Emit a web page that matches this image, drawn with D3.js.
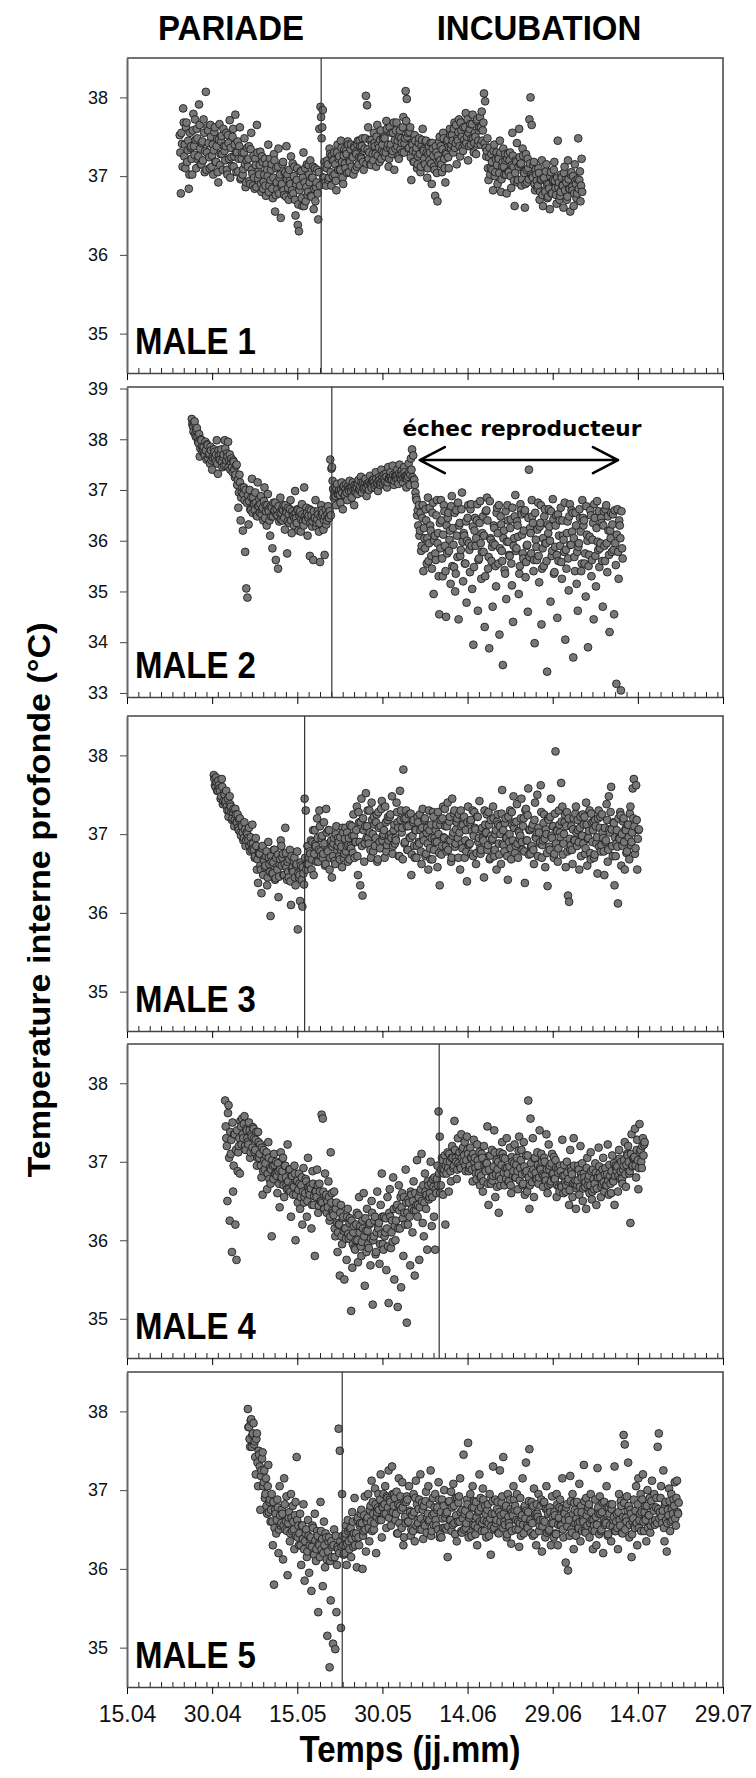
<!DOCTYPE html>
<html>
<head>
<meta charset="utf-8">
<script src="https://cdn.jsdelivr.net/npm/d3@7"></script>
<style>
  body { margin: 0; background: #fff; }
  svg { display: block; }
</style>
</head>
<body>
<svg id="chart"></svg>
<script>
// ---- data ----
const phaseLabels = ["PARIADE", "INCUBATION"];
const maleNames = ["MALE 1", "MALE 2", "MALE 3", "MALE 4", "MALE 5"];
const tickLabels = ["15.04", "30.04", "15.05", "30.05", "14.06", "29.06", "14.07", "29.07"];
const yTicksStd = [35, 36, 37, 38];
const yTicksMale2 = [33, 34, 35, 36, 37, 38, 39];
// first reading of each logger; series A every 4.8 h, series B halfway between
const seriesStart = ["24.04 07:00", "26.04 10:00", "30.04 07:00", "02.05 07:00", "06.05 07:00"];
const sampleHours = 4.8;
// end of pariade (vertical line)
const pariadeEnd = ["19.05 05:00", "21.05 02:00", "16.05 07:00", "09.06 00:00", "22.05 22:00"];
const failureFrom = "05.06 14:00", failureTo = "10.07 12:00", failureTemp = 37.59;
const failureLabel = "échec reproducteur";

const male1Temp = [
37.52,36.78,37.41,37.86,37.25, 37.10,37.68,37.33,36.84,37.55, 37.38,37.02,37.79,37.27,37.46,
37.60,37.21,37.91,37.35,37.15, 37.44,37.72,37.05,38.07,37.30, 37.58,37.24,37.65,37.12,37.40,
37.33,37.62,37.18,37.47,36.92, 37.66,37.28,37.51,37.08,37.38, 37.20,37.55,37.02,37.42,37.71,
37.36,37.13,37.60,37.25,37.78, 37.05,37.44,37.22,37.62,36.98, 37.30,37.09,37.48,36.86,37.20,
37.12,37.38,36.90,37.55,37.03, 37.26,36.84,37.14,37.65,36.97, 37.02,37.31,36.80,37.18,36.93,
37.22,36.75,37.08,37.40,36.88, 36.95,37.15,36.72,37.28,36.55, 37.10,36.83,37.35,36.98,36.47,
36.90,37.18,36.76,37.05,37.38, 37.02,36.70,36.94,37.25,36.82, 36.78,37.12,36.50,36.95,36.38,
36.30,36.88,37.06,36.62,37.30, 36.92,36.68,37.15,36.80,37.02, 37.20,36.74,36.98,36.58,37.10,
36.86,37.08,36.45,37.60,37.88, 37.48,37.84,36.98,37.12,36.88, 37.20,36.95,37.35,37.05,37.26,
37.00,37.30,37.15,36.82,37.40, 37.22,37.08,37.45,37.18,36.90, 37.34,37.10,37.28,37.44,37.05,
37.18,37.40,37.25,37.02,37.36, 37.30,37.12,37.45,37.24,37.38, 37.22,37.48,37.08,37.35,38.02,
37.90,37.62,37.30,37.15,37.46, 37.28,37.55,37.38,37.12,37.65, 37.40,37.18,37.58,37.32,37.48,
37.50,37.25,37.70,37.36,37.12, 37.62,37.40,37.28,37.55,37.08, 37.35,37.68,37.45,37.22,37.58,
37.48,37.30,37.75,37.42,38.08, 37.98,37.55,37.36,37.62,36.95, 37.40,37.18,37.52,37.30,37.10,
37.25,37.48,37.05,37.38,37.60, 37.32,37.15,37.45,36.98,37.28, 37.20,37.42,36.90,37.35,37.12,
36.75,37.30,36.68,37.18,37.50, 37.38,37.05,37.55,37.22,36.92, 37.28,37.46,37.10,37.60,37.35,
37.52,37.30,37.68,37.42,37.15, 37.45,37.72,37.25,37.58,37.36, 37.62,37.40,37.80,37.50,37.20,
37.38,37.66,37.48,37.78,37.30, 37.55,37.28,37.72,37.45,37.62, 37.40,37.82,37.58,38.05,37.95,
37.25,37.48,36.95,37.36,37.10, 37.18,36.82,37.40,37.05,37.30, 36.90,37.22,37.45,36.80,37.12,
37.35,37.02,37.20,36.78,37.28, 37.05,37.30,36.85,37.55,37.12, 36.62,37.20,37.42,36.95,37.60,
37.15,36.88,37.35,37.05,36.60, 37.28,36.92,37.10,37.72,38.00, 37.65,36.98,37.18,36.82,37.02,
36.85,37.10,36.70,36.95,37.20, 36.62,36.98,36.80,37.15,36.72, 36.90,36.58,37.05,36.78,36.95,
37.18,36.85,36.65,37.45,36.92, 36.75,37.02,36.88,36.60,37.12, 36.95,36.70,37.20,36.84,36.55,
37.05,36.82,36.62,37.15,36.90, 36.78,37.48,36.95,36.68,37.22
];
const male1TempB = [
37.30,37.55,37.12,37.68,37.40, 37.62,37.18,37.45,37.02,37.36, 37.22,37.58,37.38,37.72,37.10,
37.48,37.25,37.65,37.15,37.42, 37.20,37.55,37.32,37.08,37.62, 37.42,37.10,37.50,37.26,37.02,
37.56,37.18,37.38,37.05,37.46, 37.14,37.44,37.28,37.60,37.32, 37.38,37.08,37.52,37.22,36.98,
37.24,37.50,37.12,37.40,37.30, 37.30,37.06,37.38,36.96,37.22, 37.02,37.30,37.15,36.92,37.36,
37.22,36.94,37.34,37.08,36.88, 36.98,37.22,36.86,37.30,37.06, 37.14,36.90,37.25,36.84,37.02,
36.88,37.15,37.00,36.80,37.22, 37.08,36.84,36.98,37.20,36.76, 36.92,37.12,36.78,37.02,36.88,
37.15,36.82,37.04,36.74,36.96, 36.85,37.08,36.90,36.76,37.16, 37.00,36.70,36.90,37.10,36.64,
36.82,37.06,36.72,36.98,36.62, 37.10,36.86,36.76,37.14,36.92, 36.75,36.98,37.12,36.84,36.68,
36.92,36.78,37.05,36.88,37.75, 37.62,36.98,37.18,36.92,37.10, 37.15,36.98,37.28,36.88,37.20,
37.20,37.02,36.94,37.30,37.08, 37.25,37.08,37.36,36.98,37.26, 37.16,37.32,37.04,37.40,37.20,
37.34,37.12,37.24,37.38,37.08, 37.28,37.40,37.15,37.45,37.24, 37.38,37.18,37.32,37.48,37.16,
37.34,37.22,37.46,37.14,37.40, 37.20,37.42,37.28,37.50,37.26, 37.36,37.46,37.22,37.40,37.30,
37.48,37.30,37.60,37.40,37.22, 37.36,37.55,37.32,37.68,37.46, 37.58,37.38,37.25,37.50,37.34,
37.42,37.62,37.30,37.48,37.70, 37.50,37.35,37.56,37.24,37.42, 37.32,37.18,37.45,37.36,37.15,
37.42,37.28,37.12,37.46,37.34, 37.22,37.44,37.30,37.10,37.38, 37.30,37.16,37.42,37.26,37.08,
37.38,37.04,37.26,37.44,37.20, 37.15,37.34,37.48,37.10,37.30, 37.44,37.24,37.36,37.52,37.40,
37.45,37.60,37.36,37.65,37.48, 37.56,37.38,37.68,37.50,37.32, 37.46,37.62,37.42,37.72,37.55,
37.60,37.40,37.66,37.48,37.42, 37.50,37.70,37.40,37.58,37.75, 37.62,37.45,37.68,37.42,37.36,
37.32,37.10,37.24,37.02,37.28, 37.08,37.32,37.00,37.22,37.14, 37.24,37.04,37.30,36.96,37.18,
37.12,37.28,37.02,37.22,37.06, 37.20,37.00,37.14,37.26,36.94, 37.04,37.18,36.92,37.12,37.24,
37.16,36.96,37.26,37.04,36.90, 37.08,37.22,36.96,37.16,37.02, 37.00,37.14,36.90,37.08,36.94,
36.88,37.04,36.80,36.96,36.76, 36.98,36.82,37.06,36.90,36.74, 36.84,37.00,36.78,36.94,37.08,
36.94,36.76,36.98,36.86,36.70, 36.80,36.98,36.88,37.04,36.82, 36.92,36.74,36.96,36.84,37.02,
36.86,37.00,36.78,36.94,36.72, 36.96,36.84,37.06,36.88,36.80
];

const male2Temp = [
38.40,38.25,38.32,38.10,38.18, 38.05,37.92,37.66,38.00,37.85, 37.80,37.72,37.95,37.60,37.88,
37.70,37.52,37.78,37.40,37.62, 37.75,37.55,37.98,37.32,37.68, 37.60,37.80,37.45,37.70,37.98,
37.50,37.72,37.95,37.58,37.40, 37.62,37.35,37.55,37.25,37.48, 37.10,36.65,37.30,36.40,36.95,
36.20,37.05,35.78,35.06,34.88, 36.32,37.00,36.60,37.22,36.85, 36.72,36.95,36.50,37.15,36.68,
36.55,36.88,36.62,36.40,37.05, 36.70,36.30,36.92,36.58,36.10, 36.48,35.85,36.75,36.60,35.62,
36.62,35.45,36.38,36.85,36.55, 36.40,36.70,36.22,36.58,35.75, 36.65,36.35,36.80,36.15,36.50,
36.30,36.98,36.45,36.62,36.20, 36.55,36.18,36.72,36.38,37.05, 36.42,36.65,36.10,36.50,35.70,
36.60,36.28,35.62,36.45,36.80, 36.35,36.58,36.18,35.58,36.70, 36.50,36.22,35.72,36.62,36.40,
36.68,36.45,37.60,37.42,37.18, 36.85,37.05,36.70,37.12,36.92, 37.00,36.75,37.15,36.62,37.08,
36.90,37.12,36.80,37.02,37.18, 37.05,36.85,37.15,36.70,37.00, 37.10,36.92,37.20,37.02,37.26,
36.95,37.15,37.05,37.22,36.88, 37.12,37.00,37.28,37.08,37.18, 37.20,37.05,37.35,37.12,36.98,
37.25,37.10,37.40,37.18,37.30, 37.15,37.32,37.05,37.45,37.22, 37.35,37.20,37.48,37.10,37.28,
37.22,37.40,37.12,37.50,37.30, 37.38,37.15,37.45,37.25,37.05, 37.30,37.52,37.10,37.62,37.80,
37.68,37.20,36.95,36.80,36.60, 36.70,36.20,35.80,36.45,35.40, 36.05,36.62,35.55,36.85,35.95,
36.30,35.70,36.55,34.95,36.10, 35.62,36.80,36.15,34.55,35.85, 36.40,35.30,36.70,35.90,34.50,
35.75,36.55,36.02,35.15,36.88, 36.25,35.48,35.00,36.60,35.68, 34.45,36.35,35.82,36.95,35.20,
36.10,35.55,34.78,36.45,35.95, 35.38,36.72,35.05,33.95,36.20, 35.90,36.40,34.62,35.65,36.78,
35.25,36.15,35.78,34.30,36.58, 36.85,35.45,33.88,36.05,35.60, 34.70,36.30,35.92,35.10,36.65,
35.55,34.15,36.48,35.80,33.55, 36.20,35.35,34.85,36.70,35.98, 35.70,36.42,35.12,34.40,36.05,
36.90,35.85,36.30,34.95,35.50, 36.60,36.12,35.65,36.55,35.28, 35.90,34.60,37.40,36.25,35.75,
36.48,35.40,33.98,36.02,35.62, 36.75,35.18,36.35,34.35,35.85, 35.50,36.62,35.95,33.42,36.15,
36.28,34.80,35.70,36.82,35.35, 35.88,36.50,34.48,35.60,36.40, 36.65,35.25,36.10,35.78,34.05,
35.45,36.38,35.02,36.72,35.92, 36.18,33.70,35.68,36.55,35.15, 34.62,35.95,36.45,35.40,36.80,
36.30,35.55,34.90,36.12,33.90, 35.72,36.60,35.30,36.02,34.45, 36.45,35.10,36.78,35.82,35.48,
35.95,36.35,34.70,36.58,35.60, 36.70,35.38,36.20,34.20,36.05, 35.78,36.52,34.55,35.95,33.18,
36.62,35.25,36.30,33.05,35.85
];
const male2TempB = [
38.30,38.15,38.35,38.05,38.22, 37.95,38.10,37.82,37.98,37.75, 37.85,37.68,37.78,37.90,37.62,
37.72,37.85,37.58,37.66,37.80, 37.62,37.70,37.52,37.78,37.60, 37.72,37.55,37.65,37.48,37.82,
37.58,37.66,37.45,37.70,37.55, 37.45,37.58,37.40,37.30,37.50, 37.20,36.95,37.15,36.85,37.05,
36.92,36.80,37.00,36.75,36.90, 36.78,36.62,36.85,36.55,36.72, 36.60,36.75,36.48,36.68,36.82,
36.72,36.52,36.65,36.78,36.45, 36.58,36.70,36.62,36.40,36.68, 36.65,36.48,36.58,36.75,36.52,
36.50,36.68,36.55,36.42,36.62, 36.60,36.45,36.70,36.55,36.38, 36.52,36.62,36.40,36.58,36.48,
36.45,36.55,36.35,36.60,36.50, 36.58,36.42,36.52,36.30,36.48, 36.40,36.55,36.45,36.62,36.35,
36.50,36.38,36.58,36.45,36.28, 36.42,36.52,36.35,36.48,36.60, 36.55,36.40,36.48,36.32,36.52,
36.45,36.58,36.50,37.45,37.02, 36.95,36.88,37.02,36.92,36.98, 36.90,37.00,36.95,37.05,36.88,
37.02,36.95,37.08,36.98,37.05, 36.98,37.06,37.00,37.10,36.95, 37.05,37.12,37.00,37.08,37.15,
37.10,37.02,37.14,37.06,37.12, 37.08,37.16,37.12,37.04,37.20, 37.15,37.10,37.22,37.14,37.18,
37.20,37.14,37.24,37.12,37.22, 37.18,37.26,37.15,37.22,37.28, 37.25,37.20,37.30,37.18,37.26,
37.28,37.22,37.32,37.25,37.20, 37.30,37.24,37.35,37.28,37.22, 37.26,37.34,37.30,37.40,37.25,
37.20,37.10,36.85,36.50,36.30, 36.10,36.55,35.90,36.70,36.25, 35.85,36.40,36.05,35.60,36.65,
36.20,35.45,36.75,36.00,35.75, 36.50,35.95,35.30,36.35,36.80, 35.65,36.12,36.58,35.40,36.30,
36.45,35.80,36.20,36.68,35.50, 35.92,36.55,35.35,36.10,36.75, 36.30,35.70,36.62,35.98,36.15,
35.55,36.38,36.00,36.70,35.82, 36.62,35.90,36.28,35.48,36.45, 36.05,36.72,35.62,36.35,35.95,
35.78,36.48,36.10,35.30,36.60, 36.40,35.68,36.78,36.02,35.88, 35.95,36.25,35.50,36.55,36.15,
36.70,35.85,36.32,35.60,36.05, 35.42,36.58,35.98,36.40,35.72, 36.25,35.55,36.65,35.90,36.48,
35.80,36.38,36.08,35.35,36.72, 36.52,35.75,36.20,36.60,35.58, 35.92,36.45,35.68,36.15,36.80,
36.35,35.62,36.55,35.88,36.22, 35.70,36.28,36.70,35.45,36.05, 36.48,35.95,35.60,36.32,36.62,
36.00,36.58,35.80,36.42,35.38, 36.30,35.72,36.52,36.10,35.90, 35.58,36.40,36.02,36.75,35.82,
36.15,35.65,36.48,35.92,36.60, 36.55,36.05,35.40,36.30,35.78, 35.88,36.62,36.18,35.55,36.45,
36.40,35.75,36.68,36.00,35.50, 36.08,36.50,35.62,36.35,36.72, 35.70,36.25,35.98,36.58,35.85,
36.45,35.60,36.30,35.90,36.62, 35.95,36.48,35.72,36.20,36.55, 36.32,35.82,36.60,35.52,36.12,
35.78,36.40,36.05,36.58,35.65
];

const male3Temp = [
37.75,37.62,37.72,37.55,37.68, 37.58,37.45,37.70,37.38,37.52, 37.40,37.55,37.30,37.22,37.48,
37.35,37.18,37.28,37.10,37.32, 37.15,37.25,37.05,37.20,36.98, 37.10,36.92,37.15,36.85,37.02,
36.95,37.08,36.78,36.88,37.12, 36.82,36.70,36.95,36.55,36.38, 36.75,36.60,36.25,36.85,36.68,
36.58,36.72,36.35,36.90,36.62, 35.96,36.65,36.50,36.80,36.42, 36.70,36.55,36.20,36.62,36.92,
36.60,36.75,36.48,37.08,36.58, 36.65,36.45,36.80,36.10,36.55, 36.52,36.70,36.35,36.62,35.79,
36.45,36.15,36.60,36.08,36.50, 37.45,37.30,36.62,36.85,36.70, 36.75,36.55,36.90,36.48,37.05,
36.85,37.20,36.65,37.30,36.78, 36.95,36.70,37.15,36.60,37.32, 36.80,37.05,36.55,36.90,36.45,
36.72,36.95,36.62,37.10,36.85, 36.90,36.68,36.80,36.58,37.02, 36.75,37.08,36.85,36.65,36.95,
37.12,36.82,36.98,37.25,36.70, 36.90,37.35,36.48,37.15,36.35, 37.45,36.22,37.05,36.88,37.52,
37.10,36.95,37.30,36.80,37.40, 37.00,37.22,36.85,37.15,36.65, 37.28,36.90,37.10,37.42,36.98,
37.05,37.35,36.78,37.18,36.92, 37.22,37.00,37.48,36.85,37.12, 36.95,37.40,37.15,36.72,37.55,
37.30,37.08,37.82,36.88,37.20, 37.10,36.80,37.25,36.95,36.48, 36.98,37.18,36.70,37.05,36.85,
37.15,36.88,37.05,36.62,37.32, 36.92,37.20,36.75,37.08,36.55, 37.05,36.68,36.95,37.28,36.80,
36.90,37.12,36.58,37.00,36.35, 37.18,36.85,37.35,36.95,37.10, 36.78,37.40,36.92,37.22,36.65,
37.45,37.02,37.30,36.88,37.15, 36.95,37.25,36.55,37.10,36.82, 37.20,36.70,37.05,36.40,37.35,
36.88,37.15,36.75,37.30,36.98, 37.08,36.62,37.22,36.90,37.42, 36.75,37.05,36.95,36.45,37.12,
37.02,36.80,37.28,36.68,37.18, 36.92,37.35,36.72,37.00,36.55, 37.25,36.88,37.10,36.62,37.56,
37.05,36.78,37.20,36.95,36.42, 36.90,37.30,36.68,37.12,37.48, 37.15,36.85,37.38,36.70,37.02,
36.98,37.45,36.80,37.20,36.38, 37.32,36.92,37.58,37.05,36.75, 36.85,37.12,36.62,37.40,36.95,
37.50,37.08,36.88,37.62,36.70, 36.92,37.25,36.58,37.00,36.34, 37.18,36.80,37.45,36.95,37.10,
36.75,38.05,37.05,36.65,37.30, 37.02,37.65,37.35,36.88,37.15, 36.58,37.28,36.22,36.14,36.80,
37.10,36.62,37.20,36.92,37.35, 36.85,37.05,36.55,37.22,36.98, 37.25,37.12,36.75,37.40,36.60,
36.95,37.30,36.68,37.15,37.05, 36.70,37.18,36.88,36.50,37.30, 37.08,36.78,37.25,36.95,36.48,
36.90,37.38,36.65,37.48,37.02, 37.60,36.85,37.15,36.35,36.72, 37.05,36.12,36.95,37.28,36.60,
36.85,37.20,36.55,37.05,36.78, 37.12,36.68,37.35,36.90,37.58, 37.70,36.75,37.62,36.55,37.05
];
const male3TempB = [
37.70,37.60,37.66,37.55,37.62, 37.55,37.48,37.60,37.42,37.50, 37.42,37.35,37.45,37.30,37.38,
37.28,37.20,37.32,37.18,37.25, 37.15,37.08,37.18,37.02,37.12, 37.02,36.95,37.06,36.92,37.00,
36.92,36.85,36.96,36.80,36.88, 36.80,36.72,36.85,36.68,36.76, 36.75,36.55,36.82,36.48,36.66,
36.60,36.78,36.45,36.70,36.52, 36.72,36.50,36.64,36.80,36.44, 36.58,36.74,36.46,36.68,36.85,
36.70,36.48,36.62,36.76,36.42, 36.52,36.68,36.40,36.72,36.58, 36.66,36.45,36.60,36.78,36.50,
36.48,36.64,36.42,36.58,36.36, 36.70,36.55,36.85,36.62,36.78, 36.92,36.68,37.05,36.75,36.88,
36.65,36.95,36.80,37.10,36.72, 36.98,36.75,36.88,36.62,37.02, 36.78,37.05,36.70,36.92,36.84,
36.88,36.66,37.00,36.80,36.95, 36.72,36.96,36.84,37.08,36.70, 36.94,36.78,37.02,36.86,36.68,
36.85,37.10,36.76,36.98,36.90, 37.05,36.72,37.28,36.90,37.15, 36.85,37.20,36.65,37.10,36.95,
37.30,36.88,37.02,36.70,37.18, 36.78,37.12,36.95,37.25,36.68, 37.08,36.82,37.32,36.92,37.00,
36.70,37.15,36.86,37.22,36.98, 37.25,36.95,36.75,37.05,36.88, 36.92,37.28,37.08,36.72,37.18,
37.02,36.68,37.20,36.90,37.30, 36.80,37.10,36.96,37.26,36.74, 37.15,36.85,37.05,36.70,37.22,
36.90,37.25,36.78,37.08,36.98, 37.18,36.72,37.02,36.88,37.30, 36.82,37.12,36.68,37.22,36.95,
37.05,36.90,37.28,36.76,37.12, 36.74,37.20,36.96,37.32,36.85, 37.10,36.80,37.16,36.92,36.70,
36.98,37.26,36.84,37.06,37.20, 36.70,37.02,37.30,36.88,37.12, 37.22,36.92,36.78,37.15,36.86,
36.88,37.18,37.04,36.72,37.28, 37.06,36.76,37.22,36.95,36.82, 36.80,37.08,36.92,37.30,37.02,
37.25,36.86,37.12,36.70,36.98, 36.94,37.20,36.80,37.05,37.16, 37.12,36.74,37.00,37.26,36.88,
36.86,37.14,36.96,36.72,37.22, 37.00,36.82,37.28,36.92,37.08, 36.76,37.16,36.88,37.04,36.94,
37.20,36.90,37.10,36.78,37.30, 36.92,37.24,36.74,37.06,36.84, 37.08,36.80,37.18,36.96,37.02,
36.72,37.02,36.90,37.28,36.86, 37.14,36.94,37.06,36.76,37.20, 36.84,37.22,36.98,37.10,36.70,
37.26,36.88,37.04,36.82,37.12, 36.96,37.16,36.74,37.00,37.24, 37.10,36.78,37.20,36.94,36.86,
36.80,37.06,36.92,37.26,37.02, 37.18,36.90,37.08,36.72,36.98, 36.88,37.22,36.82,37.12,36.94,
37.04,36.76,37.26,36.90,37.16, 36.74,37.10,36.96,37.20,36.84, 37.22,36.86,37.02,36.78,37.08,
36.92,37.18,36.80,37.06,37.28, 37.06,36.72,37.14,36.96,36.88, 36.84,37.20,36.94,37.24,37.00,
37.16,36.90,37.06,36.76,37.12, 36.96,37.26,36.86,37.02,37.20, 37.10,36.82,37.18,36.94,37.06
];

const male4Temp = [
37.78,37.30,36.50,37.72,36.25, 37.10,35.85,36.62,37.35,36.20, 35.75,36.88,37.20,36.85,37.45,
37.55,37.30,37.58,37.15,37.40, 37.25,37.50,37.05,37.35,37.18, 37.42,37.12,37.28,36.95,37.38,
37.05,37.22,36.80,36.58,37.15, 36.90,37.08,36.65,37.25,36.78, 36.72,36.05,36.95,37.10,36.85,
37.00,36.60,36.88,36.42,37.12, 36.80,37.05,36.55,36.95,36.70, 37.22,36.65,36.90,36.30,36.82,
36.58,36.95,36.00,36.75,36.48, 36.85,36.40,36.70,36.20,36.92, 36.55,36.78,36.30,37.05,36.62,
36.70,36.15,36.88,36.45,35.80, 36.62,36.90,36.35,36.72,36.50, 37.60,37.55,36.40,36.85,36.58,
36.50,36.75,36.25,37.12,36.60, 36.35,36.62,36.05,36.48,35.85, 36.20,35.55,36.45,35.95,36.30,
35.50,36.15,35.75,36.40,36.02, 36.28,35.10,35.65,36.10,35.90, 36.00,36.35,35.72,36.55,36.18,
35.80,36.25,36.60,35.42,36.12, 36.40,35.95,36.20,35.68,36.50, 35.18,36.05,36.30,35.85,36.62,
36.15,35.70,36.45,36.85,35.95, 36.30,36.10,35.62,36.55,35.20, 36.65,35.90,36.25,36.80,35.50,
36.00,36.42,35.15,36.70,36.15, 35.40,36.60,35.80,36.35,36.90, 34.95,36.20,36.48,35.68,36.58,
36.10,36.75,35.55,36.38,37.02, 36.45,35.75,36.62,37.10,36.22, 36.05,36.85,36.40,35.88,36.70,
36.55,37.00,36.18,36.78,36.30, 35.88,36.60,36.95,37.64,37.32, 36.70,37.05,36.58,36.90,36.20,
36.85,37.12,36.62,37.00,36.75, 37.20,36.92,37.52,37.05,36.78, 37.30,37.08,36.95,37.35,37.15,
37.00,37.25,36.88,37.32,37.10, 36.92,37.18,37.05,36.75,37.28, 37.05,36.85,37.22,36.95,37.12,
36.80,37.10,36.62,37.20,36.90, 36.98,37.45,36.45,37.08,36.72, 37.15,36.82,37.40,36.55,37.02,
36.90,36.35,37.12,36.78,37.25, 37.05,36.70,36.92,37.30,36.85, 36.75,37.18,36.60,37.00,36.88,
37.22,36.80,37.05,36.65,37.32, 36.92,37.15,36.70,37.25,36.58, 37.08,36.62,37.78,36.40,37.55,
36.85,37.30,36.55,37.05,36.78, 37.12,36.72,37.40,36.90,37.00, 36.68,37.05,36.82,37.35,36.60,
37.22,36.95,36.75,37.10,36.85, 36.78,37.02,36.55,36.90,36.68, 36.95,36.70,37.28,36.60,36.82,
36.62,37.00,36.75,36.45,37.15, 36.88,36.55,37.30,36.72,36.40, 36.70,36.95,36.58,37.20,36.80,
36.50,36.85,36.68,36.40,37.05, 36.78,36.60,37.12,36.52,36.90, 36.65,36.98,36.45,36.80,37.18,
36.85,36.55,36.72,37.05,36.62, 36.92,36.70,37.22,36.58,36.82, 36.60,37.08,36.75,36.45,36.95,
36.88,36.62,37.15,36.78,37.00, 36.72,36.95,37.25,36.68,37.10, 37.20,36.85,36.22,37.35,36.95,
37.05,37.42,36.80,37.28,36.65, 37.48,37.15,36.92,37.30,37.22
];
const male4TempB = [
37.45,37.20,37.62,37.05,37.38, 37.28,37.50,36.95,37.35,37.15, 37.40,37.12,37.30,37.52,37.22,
37.35,37.48,37.20,37.42,37.30, 37.22,37.40,37.12,37.32,37.44, 37.30,37.15,37.38,37.05,37.25,
37.10,36.95,37.18,36.88,37.02, 36.98,37.12,36.85,37.05,36.92, 36.90,37.02,36.78,36.96,36.84,
36.82,36.98,36.72,36.90,36.78, 36.88,36.70,36.95,36.80,36.65, 36.75,36.90,36.62,36.82,36.70,
36.68,36.85,36.58,36.76,36.64, 36.72,36.55,36.80,36.62,36.48, 36.60,36.75,36.50,36.68,36.58,
36.66,36.45,36.72,36.56,36.62, 36.55,36.70,36.44,36.62,36.50, 36.48,36.62,36.40,36.55,36.35,
36.42,36.55,36.30,36.48,36.38, 36.32,36.15,36.40,36.22,36.10, 36.20,36.35,36.05,36.28,36.12,
36.15,36.02,36.30,36.08,36.22, 36.05,36.25,35.95,36.18,35.88, 36.20,36.00,36.32,36.10,35.92,
35.98,36.15,36.05,36.28,35.85, 36.12,35.90,36.22,36.02,36.35, 36.00,36.25,35.82,36.10,36.18,
36.22,35.95,36.08,36.30,35.88, 36.05,36.28,36.15,35.92,36.35, 36.30,36.10,35.98,36.40,36.18,
36.25,36.45,36.15,36.38,36.55, 36.42,36.28,36.55,36.20,36.48, 36.35,36.52,36.30,36.62,36.40,
36.50,36.38,36.60,36.45,36.30, 36.55,36.42,36.65,36.50,36.70, 36.48,36.62,36.58,36.75,36.52,
36.60,36.72,36.55,36.68,36.80, 36.65,36.78,36.70,36.85,36.60, 36.90,37.02,36.85,37.08,36.95,
37.00,36.92,37.10,36.88,37.05, 37.05,36.95,37.15,37.00,36.90, 36.98,37.12,36.92,37.05,37.18,
37.08,36.95,37.02,37.15,36.88, 36.95,37.05,36.90,37.10,37.00, 36.92,36.78,37.02,36.85,36.70,
36.82,37.05,36.75,36.95,36.88, 36.98,36.72,36.90,37.08,36.80, 36.76,36.94,37.12,36.84,36.68,
37.00,36.82,36.70,36.96,37.10, 36.86,37.04,36.78,36.92,36.74, 36.94,36.70,37.06,36.82,36.98,
36.80,36.96,36.88,37.14,36.76, 37.02,36.84,36.72,36.94,36.86, 36.88,37.08,36.80,36.70,36.98,
36.74,36.90,37.04,36.86,36.78, 36.96,36.80,36.92,37.10,36.84, 36.82,37.00,36.76,36.90,36.70,
36.90,36.72,36.98,36.84,37.06, 36.78,36.92,36.70,36.86,36.62, 36.88,36.68,36.82,36.96,36.74,
36.70,36.86,36.78,36.64,36.92, 36.84,36.72,36.95,36.76,36.66, 36.76,36.90,36.68,36.84,36.98,
36.66,36.80,36.74,36.92,36.70, 36.82,36.70,36.88,36.62,36.78, 36.72,36.86,36.66,36.80,36.94,
36.80,36.68,36.90,36.74,36.84, 36.70,36.84,36.76,36.96,36.72, 36.88,36.76,36.98,36.82,36.92,
36.94,36.82,37.04,36.88,36.78, 36.90,37.02,36.84,36.96,37.08, 37.00,36.88,37.10,36.94,37.04,
37.06,36.95,37.15,37.02,36.92, 37.12,37.00,37.20,37.08,37.25
];

const male5Temp = [
38.03,37.80,37.55,37.90,37.70, 37.85,37.62,37.20,37.72,37.05, 37.45,36.75,37.25,37.48,37.10,
36.90,37.15,36.70,37.32,36.85, 36.60,36.95,36.30,35.80,36.75, 36.45,36.88,36.20,37.05,36.55,
36.75,36.12,37.15,36.50,36.92, 35.92,36.65,36.35,36.95,36.48, 36.60,36.25,36.85,37.42,36.40,
36.30,36.70,36.05,36.55,36.82, 35.85,36.45,36.15,36.62,35.95, 36.38,35.72,36.55,36.20,36.70,
36.10,36.48,35.45,36.30,36.85, 36.25,35.78,36.60,36.02,36.40, 35.15,36.35,34.75,35.60,36.15,
35.05,36.50,34.98,35.45,36.28, 37.78,37.50,35.25,36.95,36.30, 36.20,36.45,36.05,36.62,36.35,
36.50,36.15,36.72,36.28,36.90, 36.40,36.02,36.65,36.30,36.58, 36.75,36.00,36.48,36.92,36.22,
36.60,36.95,36.35,36.80,37.12, 36.85,36.50,37.02,36.20,36.72, 36.95,36.62,37.20,36.40,36.78,
36.70,37.05,36.52,36.90,37.25, 36.88,36.55,37.30,36.72,36.95, 36.62,36.98,36.45,37.15,36.80,
36.75,37.10,36.30,36.85,36.58, 36.92,36.60,37.05,36.72,36.50, 36.68,36.95,36.35,37.12,36.82,
36.58,36.88,37.20,36.50,36.75, 36.80,36.55,36.98,36.65,37.05, 36.62,37.25,36.48,36.90,36.70,
36.95,36.55,36.78,37.10,36.40, 36.72,36.88,36.52,37.00,36.65, 36.50,36.15,36.85,36.62,36.98,
36.78,37.08,36.58,36.90,36.35, 36.60,36.92,37.15,36.48,36.75, 37.45,36.70,36.52,36.88,37.60,
36.65,36.95,36.42,37.05,36.78, 36.55,36.85,36.30,36.72,37.20, 36.90,36.48,37.02,36.62,36.80,
36.40,36.75,36.58,36.95,36.18, 36.70,37.30,36.52,36.88,36.62, 36.85,36.45,37.25,36.68,36.92,
37.42,36.60,36.78,36.40,36.95, 36.58,36.88,36.32,36.72,37.05, 36.75,36.50,36.95,36.60,36.28,
36.90,36.65,37.15,36.45,36.80, 37.35,36.55,36.72,37.52,36.62, 36.85,36.42,37.02,36.68,36.30,
36.70,36.95,36.55,36.80,36.22, 36.62,36.85,36.40,37.05,36.75, 36.48,36.78,36.30,36.92,36.58,
36.72,36.45,36.95,36.30,36.65, 36.88,36.55,37.15,36.40,36.70, 36.08,36.82,35.98,36.62,37.18,
36.50,36.95,36.25,36.75,36.42, 36.85,36.58,37.08,36.35,36.72, 36.62,37.32,36.48,36.90,36.55,
36.78,36.40,36.95,36.62,36.25, 36.55,36.88,36.30,37.28,36.70, 36.92,36.48,36.72,36.20,36.85,
36.60,37.05,36.42,36.78,36.55, 36.35,36.82,36.62,37.30,36.48, 36.70,36.25,36.95,36.55,36.80,
36.45,37.70,37.58,36.65,36.92, 37.35,36.40,36.75,36.15,36.60, 36.88,36.52,37.05,36.30,37.15,
36.62,36.95,36.72,37.20,36.48, 36.80,36.35,37.00,36.68,36.90, 36.55,37.12,36.78,36.95,36.62,
36.90,37.55,37.72,36.72,37.05, 36.58,37.25,36.35,36.85,36.22, 36.75,37.02,36.48,36.95,36.62,
36.88,37.10,36.55,37.12,36.70
];
const male5TempB = [
37.80,37.65,37.88,37.55,37.72, 37.58,37.42,37.65,37.35,37.50, 37.30,37.18,37.40,37.05,37.25,
36.95,36.80,37.05,36.72,36.88, 36.75,36.60,36.85,36.52,36.70, 36.62,36.78,36.50,36.68,36.58,
36.70,36.55,36.82,36.60,36.48, 36.58,36.72,36.45,36.65,36.80, 36.50,36.68,36.42,36.62,36.55,
36.45,36.30,36.55,36.38,36.25, 36.35,36.50,36.22,36.42,36.30, 36.40,36.28,36.52,36.18,36.36,
36.25,36.42,36.32,36.15,36.48, 36.38,36.20,36.30,36.45,36.12, 36.22,36.40,36.10,36.35,36.28,
36.30,36.15,36.42,36.05,36.25, 36.20,36.35,36.28,36.42,36.18, 36.40,36.55,36.32,36.48,36.25,
36.52,36.38,36.60,36.45,36.30, 36.45,36.62,36.40,36.55,36.70, 36.58,36.42,36.68,36.50,36.62,
36.65,36.52,36.75,36.60,36.48, 36.70,36.58,36.82,36.66,36.78, 36.75,36.88,36.62,36.80,36.95,
36.82,36.70,36.92,36.78,36.65, 36.85,36.72,36.95,36.80,36.90, 36.70,36.45,36.82,36.58,36.92,
36.52,36.78,36.40,36.66,36.85, 36.88,36.60,36.74,36.42,36.68, 36.48,36.72,36.90,36.55,36.62,
36.76,36.50,36.64,36.84,36.38, 36.58,36.86,36.46,36.70,36.60, 36.82,36.42,36.68,36.56,36.78,
36.62,36.75,36.50,36.88,36.44, 36.40,36.64,36.80,36.52,36.70, 36.72,36.54,36.86,36.62,36.48,
36.56,36.80,36.44,36.68,36.90, 36.84,36.60,36.72,36.46,36.64, 36.50,36.74,36.58,36.82,36.40,
36.68,36.46,36.78,36.56,36.86, 36.44,36.66,36.52,36.74,36.60, 36.78,36.58,36.88,36.48,36.70,
36.60,36.82,36.42,36.64,36.54, 36.86,36.50,36.70,36.58,36.76, 36.46,36.72,36.60,36.84,36.52,
36.70,36.56,36.80,36.44,36.66, 36.54,36.76,36.48,36.68,36.88, 36.80,36.62,36.74,36.50,36.58,
36.42,36.68,36.56,36.78,36.64, 36.74,36.52,36.86,36.60,36.46, 36.58,36.80,36.44,36.70,36.82,
36.66,36.48,36.62,36.88,36.54, 36.84,36.60,36.76,36.46,36.70, 36.50,36.72,36.58,36.66,36.40,
36.68,36.44,36.82,36.56,36.78, 36.56,36.76,36.50,36.72,36.62, 36.78,36.54,36.66,36.42,36.86,
36.46,36.70,36.84,36.58,36.64, 36.72,36.52,36.60,36.80,36.48, 36.60,36.86,36.46,36.68,36.74,
36.82,36.58,36.72,36.50,36.62, 36.48,36.66,36.56,36.78,36.44, 36.70,36.50,36.84,36.62,36.56,
36.58,36.78,36.44,36.70,36.82, 36.76,36.54,36.66,36.48,36.60, 36.52,36.72,36.62,36.86,36.46,
36.66,36.84,36.50,36.60,36.74, 36.80,36.56,36.70,36.44,36.64, 36.54,36.74,36.58,36.82,36.52,
36.70,36.48,36.88,36.60,36.72, 36.62,36.80,36.52,36.68,36.46, 36.86,36.60,36.74,36.56,36.78,
36.58,36.76,36.64,36.90,36.66, 36.74,36.52,36.82,36.62,36.58, 36.68,36.86,36.60,36.76,36.70,
36.80,36.64,36.90,36.72,36.84
];

const maleTemps = [
  [male1Temp, male1TempB], [male2Temp, male2TempB], [male3Temp, male3TempB],
  [male4Temp, male4TempB], [male5Temp, male5TempB]
];

// ---- layout ----
const width = 756, height = 1778;
const plotLeft = 127, plotRight = 723;
const panels = [
  { top: 58,   bottom: 373,  domain: [34.5, 38.5],   ticks: yTicksStd },
  { top: 387,  bottom: 697,  domain: [32.92, 39.03], ticks: yTicksMale2 },
  { top: 716,  bottom: 1031, domain: [34.5, 38.5],   ticks: yTicksStd },
  { top: 1044, bottom: 1358, domain: [34.5, 38.5],   ticks: yTicksStd },
  { top: 1372, bottom: 1687, domain: [34.5, 38.5],   ticks: yTicksStd }
];
const font = "'Liberation Sans', Arial, Helvetica, sans-serif";

const parseTime = d3.timeParse("%Y %d.%m %H:%M");
const toDate = s => parseTime("2007 " + (s.length === 5 ? s + " 00:00" : s));

const majorDates = tickLabels.map(toDate);
const x = d3.scaleTime()
  .domain([majorDates[0], majorDates[majorDates.length - 1]])
  .range([plotLeft, plotRight]);
const minorDates = d3.range(0, 106, 2).map(k => d3.timeDay.offset(majorDates[0], k));
const stepMs = sampleHours * 3600 * 1000;

const svg = d3.select("#chart")
  .attr("width", width)
  .attr("height", height)
  .style("font-family", font);

// phase titles
svg.selectAll("text.phase")
  .data(phaseLabels)
  .join("text")
    .attr("class", "phase")
    .attr("transform", (d, i) => `translate(${i === 0 ? 231 : 539},40) scale(1,1.08)`)
    .attr("text-anchor", "middle")
    .attr("font-size", 33)
    .attr("font-weight", "bold")
    .text(d => d);

panels.forEach((p, i) => {
  const y = d3.scaleLinear().domain(p.domain).range([p.bottom, p.top]);
  const g = svg.append("g");

  // top / right frame
  g.append("path")
    .attr("d", `M${plotLeft},${p.top}H${plotRight}V${p.bottom}`)
    .attr("fill", "none")
    .attr("stroke", "#444")
    .attr("stroke-width", 1.5);

  // points: series A and B interleaved in time
  const start = toDate(seriesStart[i]);
  const points = [];
  maleTemps[i].forEach((temps, s) => {
    temps.forEach((t, k) => {
      points.push({ date: new Date(start.getTime() + (k + s / 2) * stepMs), t: t });
    });
  });
  points.sort((a, b) => a.date - b.date);

  g.append("g")
    .selectAll("circle")
    .data(points)
    .join("circle")
      .attr("cx", d => x(d.date))
      .attr("cy", d => y(d.t))
      .attr("r", 3.9)
      .attr("fill", "#777")
      .attr("stroke", "#1a1a1a")
      .attr("stroke-width", 0.85);

  // end of pariade
  const xe = x(toDate(pariadeEnd[i]));
  g.append("line")
    .attr("x1", xe).attr("x2", xe)
    .attr("y1", p.top).attr("y2", p.bottom)
    .attr("stroke", "#333")
    .attr("stroke-width", 1.2);

  // minor ticks (inside)
  g.append("g")
    .attr("transform", `translate(0,${p.bottom})`)
    .call(d3.axisBottom(x).tickValues(minorDates).tickSize(-5).tickFormat(""))
    .call(a => a.select(".domain").remove())
    .call(a => a.selectAll("line").attr("stroke", "#222"));

  // major ticks (outside)
  g.append("g")
    .attr("transform", `translate(0,${p.bottom})`)
    .call(d3.axisBottom(x).tickValues(majorDates).tickSize(7).tickSizeOuter(0).tickPadding(12)
      .tickFormat((d, k) => i === panels.length - 1 ? tickLabels[k] : ""))
    .call(a => a.select(".domain").attr("stroke", "#444").attr("stroke-width", 1.6))
    .call(a => a.selectAll("text").attr("font-size", 23).attr("font-family", font).attr("fill", "#111"));

  // y axis
  g.append("g")
    .attr("transform", `translate(${plotLeft},0)`)
    .call(d3.axisLeft(y).tickValues(p.ticks).tickSize(7).tickSizeOuter(0).tickPadding(12).tickFormat(d3.format("d")))
    .call(a => a.select(".domain").attr("stroke", "#666").attr("stroke-width", 2))
    .call(a => a.selectAll("line").attr("stroke", "#444"))
    .call(a => a.selectAll("text").attr("font-size", 18).attr("font-family", font).attr("fill", "#111"));

  // male label
  g.append("text")
    .attr("transform", `translate(135,${p.bottom - 19}) scale(1,1.12)`)
    .attr("font-size", 33)
    .attr("font-weight", "bold")
    .text(maleNames[i]);

  // reproductive failure arrow (male 2)
  if (i === 1) {
    const x1 = x(toDate(failureFrom)), x2 = x(toDate(failureTo)), ya = y(failureTemp);
    const head = 25, spread = 13;
    g.append("path")
      .attr("d", `M${x1},${ya}H${x2}` +
                 `M${x1 + head},${ya - spread}L${x1},${ya}L${x1 + head},${ya + spread}` +
                 `M${x2 - head},${ya - spread}L${x2},${ya}L${x2 - head},${ya + spread}`)
      .attr("fill", "none")
      .attr("stroke", "#000")
      .attr("stroke-width", 2.6)
      .attr("stroke-linecap", "round")
      .attr("stroke-linejoin", "round");
    g.append("text")
      .attr("x", (x1 + x2) / 2 + 3)
      .attr("y", ya - 24)
      .attr("text-anchor", "middle")
      .attr("font-family", "'DejaVu Sans', Verdana, sans-serif")
      .attr("font-size", 22)
      .attr("font-weight", "bold")
      .attr("textLength", 239)
      .attr("lengthAdjust", "spacingAndGlyphs")
      .text(failureLabel);
  }
});

// axis titles
svg.append("text")
  .attr("transform", "translate(50,900) rotate(-90)")
  .attr("text-anchor", "middle")
  .attr("font-size", 32)
  .attr("font-weight", "bold")
  .attr("textLength", 555)
  .attr("lengthAdjust", "spacingAndGlyphs")
  .text("Temperature interne profonde (°C)");

svg.append("text")
  .attr("transform", "translate(410,1762) scale(1,1.12)")
  .attr("text-anchor", "middle")
  .attr("font-size", 33)
  .attr("font-weight", "bold")
  .text("Temps (jj.mm)");
</script>
</body>
</html>
